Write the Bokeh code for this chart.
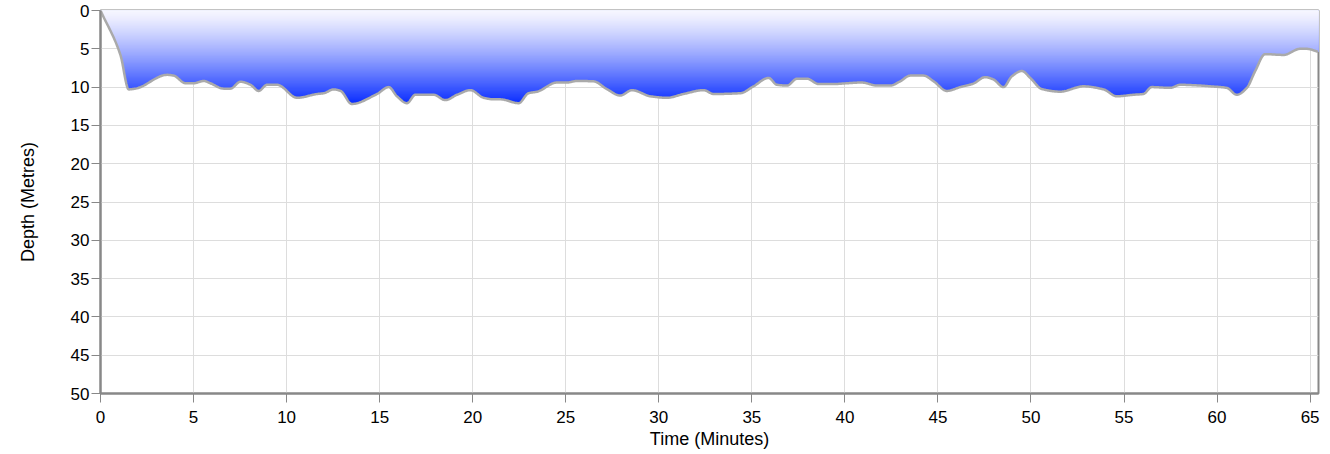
import numpy as np
from bokeh.plotting import figure
from bokeh.models import Range1d
from bokeh.embed import file_html
from bokeh.resources import INLINE

# Dive profile
time_min = [0.0, 1.07, 1.52, 1.88, 3.58, 3.93, 4.57, 5.0, 5.55, 5.9, 6.62, 6.98, 7.52, 8.06, 8.5,
            8.95, 9.49, 10.57, 11.64, 12.0, 12.53, 12.9, 13.5, 14.86, 15.49, 15.93, 16.47, 16.92,
            17.9, 18.53, 19.16, 19.88, 20.59, 21.13, 21.49, 22.47, 23.0, 23.46, 24.53, 25.07,
            25.6, 26.5, 27.2, 27.93, 28.56, 29.55, 30.44, 31.33, 32.41, 32.95, 34.38, 35.09,
            35.9, 36.35, 36.89, 37.43, 37.96, 38.59, 39.4, 40.11, 40.9, 41.72, 42.44, 42.97,
            43.51, 44.23, 44.77, 45.48, 46.2, 46.9, 47.54, 47.98, 48.52, 48.97, 49.51, 49.96,
            50.58, 51.57, 52.82, 53.9, 54.61, 55.51, 56.04, 56.49, 57.48, 58.02, 59.1, 59.64,
            60.52, 61.06, 61.6, 62.05, 62.58, 63.57, 64.47, 64.8, 65.45]
depth_m = [0.0, 5.8, 10.3, 10.2, 8.4, 8.5, 9.5, 9.5, 9.2, 9.5, 10.2, 10.2, 9.3, 9.7, 10.5,
           9.7, 9.7, 11.4, 10.9, 10.8, 10.3, 10.5, 12.2, 10.9, 10.0, 11.2, 12.1, 11.0,
           11.0, 11.7, 11.0, 10.4, 11.4, 11.6, 11.6, 12.1, 10.8, 10.6, 9.4, 9.4,
           9.2, 9.25, 10.25, 11.1, 10.4, 11.2, 11.4, 10.9, 10.4, 10.9, 10.8, 9.9,
           8.8, 9.7, 9.8, 8.9, 8.9, 9.6, 9.6, 9.5, 9.4, 9.8, 9.8, 9.25,
           8.5, 8.5, 9.25, 10.5, 10.0, 9.55, 8.7, 9.0, 10.0, 8.6, 7.9, 8.8,
           10.25, 10.6, 9.9, 10.3, 11.2, 11.0, 10.9, 10.0, 10.1, 9.7, 9.8, 9.9,
           10.1, 11.0, 10.1, 7.9, 5.7, 5.8, 5.0, 5.0, 5.4]

x_ticks = list(range(0, 66, 5))
y_ticks = list(range(0, 51, 5))

FONT = "Liberation Sans"


def monotone_curve(x, y, per_seg=24):
    """Render a monotone cubic (like d3.curveMonotoneX) through the points."""
    x = np.asarray(x, float)
    y = np.asarray(y, float)
    h = np.diff(x)
    s = np.diff(y) / h
    m = np.zeros_like(y)
    m[0], m[-1] = s[0], s[-1]
    for i in range(1, len(y) - 1):
        if s[i - 1] * s[i] <= 0:
            m[i] = 0.0
        else:
            w1 = 2 * h[i] + h[i - 1]
            w2 = h[i] + 2 * h[i - 1]
            m[i] = (w1 + w2) / (w1 / s[i - 1] + w2 / s[i])
    xs, ys = [], []
    for i in range(len(x) - 1):
        tt = np.linspace(0, 1, per_seg, endpoint=False)
        h00 = 2 * tt**3 - 3 * tt**2 + 1
        h10 = tt**3 - 2 * tt**2 + tt
        h01 = -2 * tt**3 + 3 * tt**2
        h11 = tt**3 - tt**2
        xs.append(x[i] + tt * h[i])
        ys.append(h00 * y[i] + h10 * h[i] * m[i] + h01 * y[i + 1] + h11 * h[i] * m[i + 1])
    xs.append([x[-1]])
    ys.append([y[-1]])
    return np.concatenate(xs), np.concatenate(ys)


ts, ds = monotone_curve(time_min, depth_m)

p = figure(width=1326, height=452, output_backend="svg", toolbar_location=None,
           x_range=Range1d(0, 65.45), y_range=Range1d(50, 0),
           min_border_left=100, min_border_right=8, min_border_top=10, min_border_bottom=59,
           background_fill_color="white", border_fill_color="white")

# vertical gradient fill: layered areas, deepest (darkest) first
dmax = ds.max()
n = 80
levels = np.linspace(0, dmax, n + 1)
top_rgb = np.array([246, 246, 255])
bot_rgb = np.array([8, 44, 255])
zeros = np.zeros_like(ds)
for k in range(n, 0, -1):
    f = ((levels[k - 1] + levels[k]) / 2) / dmax
    f = f ** 1.25
    c = top_rgb + (bot_rgb - top_rgb) * f
    col = "#%02x%02x%02x" % tuple(int(round(v)) for v in c)
    p.varea(x=ts, y1=zeros, y2=np.minimum(ds, levels[k]), fill_color=col, fill_alpha=1.0)

p.line(ts, ds, line_color="#aaaaaa", line_width=2.5, line_join="round")

p.outline_line_color = "#888888"
p.outline_line_width = 2
p.grid.grid_line_color = "#dddddd"
p.grid.grid_line_width = 1

p.xaxis.ticker = x_ticks
p.yaxis.ticker = y_ticks
for ax in (p.xaxis[0], p.yaxis[0]):
    ax.axis_line_color = "#888888"
    ax.axis_line_width = 2
    ax.major_tick_line_color = "#888888"
    ax.major_tick_line_width = 1
    ax.major_tick_out = 9
    ax.major_tick_in = 0
    ax.minor_tick_line_color = None
    ax.major_label_text_font = FONT
    ax.major_label_text_font_size = "17px"
    ax.major_label_text_color = "black"
    ax.axis_label_text_font = FONT
    ax.axis_label_text_font_size = "18px"
    ax.axis_label_text_font_style = "normal"
    ax.axis_label_text_color = "black"

p.xaxis.axis_label = "Time (Minutes)"
p.yaxis.axis_label = "Depth (Metres)"
p.xaxis.major_label_standoff = 8
p.xaxis.axis_label_standoff = 3
p.yaxis.major_label_standoff = 2
p.yaxis.axis_label_standoff = 30

open("out.html", "w").write(file_html(p, INLINE))
